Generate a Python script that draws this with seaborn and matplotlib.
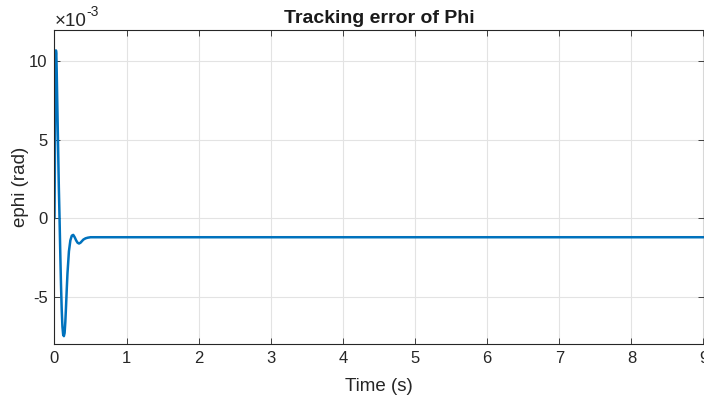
import numpy as np
import pandas as pd
import matplotlib
matplotlib.use("Agg")
import matplotlib.pyplot as plt
import seaborn as sns

# Data (ephi in units of 1e-3 rad)
time_s = [0.0, 0.005, 0.01, 0.015, 0.02, 0.025, 0.03, 0.04, 0.05, 0.06, 0.07, 0.08,
          0.09, 0.10, 0.11, 0.12, 0.13, 0.14, 0.15, 0.16, 0.17, 0.18, 0.20, 0.22,
          0.24, 0.26, 0.28, 0.30, 0.32, 0.34, 0.36, 0.38, 0.40, 0.43, 0.46, 0.50,
          0.60, 0.80, 1.0, 2.0, 4.0, 6.0, 8.0, 9.0]
ephi_e3 = [0.0, 3.5, 7.5, 10.0, 10.7, 10.5, 9.5, 7.0, 4.5, 2.0, 0.0, -2.2,
           -4.2, -5.8, -6.9, -7.4, -7.5, -7.3, -6.6, -5.6, -4.5, -3.5, -2.1, -1.4,
           -1.1, -1.05, -1.2, -1.4, -1.55, -1.6, -1.55, -1.45, -1.35, -1.27, -1.23, -1.2,
           -1.2, -1.2, -1.2, -1.2, -1.2, -1.2, -1.2, -1.2]
x_ticks = [0, 1, 2, 3, 4, 5, 6, 7, 8, 9]
y_ticks = [-5, 0, 5, 10]

sns.set_theme(style="whitegrid")
plt.rcParams['font.family'] = ['Liberation Sans', 'DejaVu Sans']

df = pd.DataFrame({"t": time_s, "e": ephi_e3})

fig = plt.figure(figsize=(7.04, 3.99), dpi=100)
ax = fig.add_axes([54.5 / 704, 55 / 399, (703.5 - 54.5) / 704, 314 / 399])
sns.lineplot(data=df, x="t", y="e", ax=ax, color="#0072BD", linewidth=1.8)

ax.set_xlim(0, 9)
ax.set_ylim(-8, 12)
ax.set_xticks(x_ticks)
ax.set_yticks(y_ticks)
ax.set_xticklabels([str(v) for v in x_ticks], fontsize=12, color="#262626")
ax.set_yticklabels([str(v) for v in y_ticks], fontsize=12, color="#262626")
ax.set_xlabel("Time (s)", fontsize=13.5, color="#262626", labelpad=9)
ax.set_ylabel("ephi (rad)", fontsize=13.5, color="#262626", labelpad=0)
ax.set_title("Tracking error of Phi", fontsize=14, fontweight="bold", color="#1a1a1a", pad=5)

ax.set_facecolor("white")
ax.grid(True, color="#e3e3e3", linewidth=0.8)
for s in ax.spines.values():
    s.set_color("#262626")
    s.set_linewidth(0.8)
ax.tick_params(axis="both", direction="in", length=4, width=0.6, color="#262626",
               top=True, right=True, bottom=True, left=True, pad=5)

fig.text(55 / 704, (399 - 26) / 399, "\u00d710", fontsize=13.5, color="#262626",
         ha="left", va="baseline")
fig.text(86 / 704, (399 - 16) / 399, "-3", fontsize=10, color="#262626",
         ha="left", va="baseline")

fig.savefig("out.png", dpi=100)
